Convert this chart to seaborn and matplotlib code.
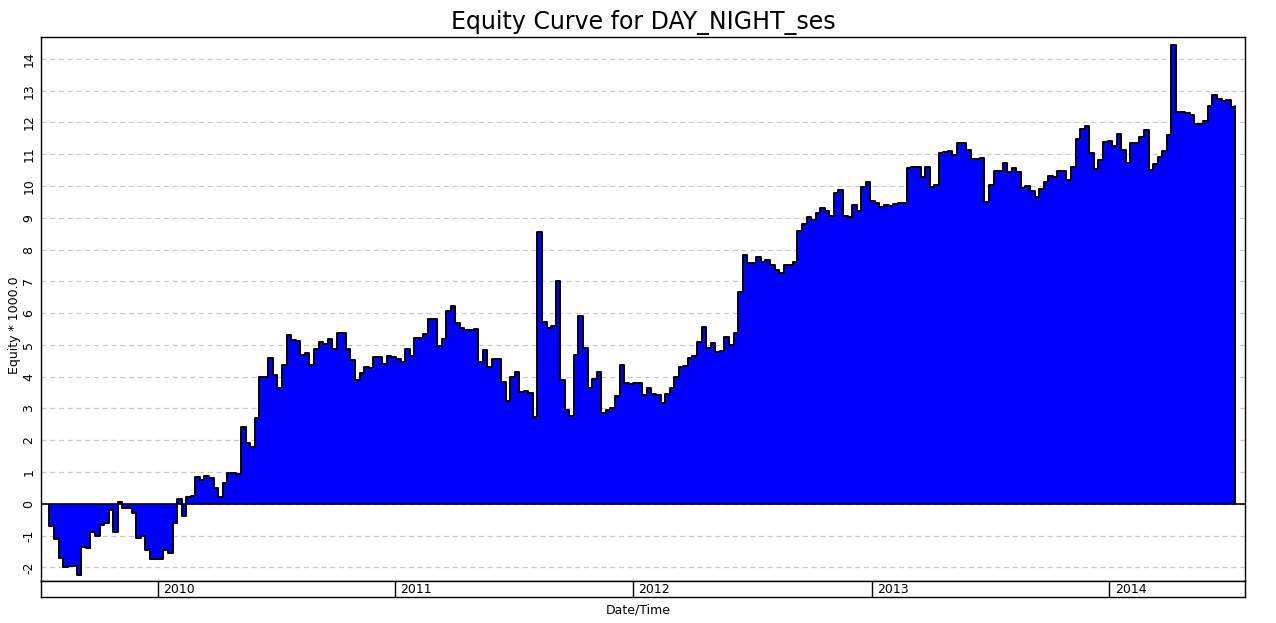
import numpy as np
import pandas as pd
import matplotlib
matplotlib.use('Agg')
import matplotlib.pyplot as plt
import seaborn as sns

sns.set_style('white')
plt.rcParams['font.family'] = 'DejaVu Sans'
plt.rcParams['text.color'] = 'black'
plt.rcParams['axes.labelcolor'] = 'black'
plt.rcParams['ytick.color'] = 'black'
plt.rcParams['xtick.color'] = 'black'

# weekly equity (x1000)
start_date = '2009-07-19'
equity = [
    -0.7, -1.1, -1.7, -2.0, -1.97, -1.95, -2.25, -1.35, -1.4, -0.88,
    -1.0, -0.66, -0.6, -0.2, -0.88, 0.05, -0.13, -0.13, -0.28, -1.07,
    -1.0, -1.45, -1.73, -1.73, -1.73, -1.45, -1.55, -0.6, 0.15, -0.38,
    0.2, 0.23, 0.84, 0.75, 0.88, 0.8, 0.49, 0.21, 0.65, 0.96,
    0.98, 0.93, 2.43, 1.9, 1.8, 2.7, 4.0, 4.0, 4.6, 4.05,
    3.63, 4.36, 5.3, 5.17, 5.13, 4.68, 4.73, 4.38, 4.88, 5.1,
    5.04, 5.2, 4.88, 5.36, 5.38, 4.88, 4.52, 3.9, 4.12, 4.31,
    4.26, 4.63, 4.63, 4.39, 4.65, 4.63, 4.55, 4.45, 4.86, 4.65,
    5.23, 5.23, 5.33, 5.82, 5.82, 4.97, 5.18, 6.06, 6.24, 5.7,
    5.54, 5.46, 5.46, 5.51, 4.45, 4.84, 4.32, 4.55, 4.55, 3.82,
    3.25, 3.98, 4.15, 3.51, 3.56, 3.48, 2.72, 8.55, 5.72, 5.54,
    5.6, 7.0, 3.9, 2.94, 2.75, 4.69, 5.9, 4.9, 3.64, 3.92,
    4.16, 2.85, 2.94, 3.01, 3.38, 4.37, 3.8, 3.78, 3.8, 3.8,
    3.43, 3.64, 3.46, 3.43, 3.17, 3.46, 3.64, 4.0, 4.32, 4.34,
    4.58, 4.64, 5.1, 5.56, 4.9, 5.06, 4.79, 4.81, 5.26, 5.0,
    5.37, 6.68, 7.83, 7.57, 7.59, 7.76, 7.62, 7.67, 7.52, 7.36,
    7.25, 7.52, 7.52, 7.62, 8.57, 8.8, 9.04, 8.93, 9.16, 9.3,
    9.22, 9.06, 9.77, 9.88, 9.06, 9.04, 9.4, 9.21, 9.98, 10.14,
    9.54, 9.46, 9.35, 9.4, 9.37, 9.43, 9.48, 9.46, 10.56, 10.6,
    10.6, 10.3, 10.6, 9.98, 10.04, 11.03, 11.06, 11.11, 10.98, 11.34,
    11.36, 11.13, 10.84, 10.84, 10.87, 9.51, 10.04, 10.48, 10.48, 10.71,
    10.45, 10.56, 10.45, 9.93, 10.0, 9.83, 9.65, 9.9, 10.12, 10.32,
    10.3, 10.48, 10.48, 10.19, 10.61, 11.47, 11.81, 11.9, 11.03, 10.53,
    10.82, 11.4, 11.42, 11.26, 11.63, 11.13, 10.73, 11.36, 11.36, 11.55,
    11.76, 10.5, 10.69, 10.92, 11.11, 11.6, 14.45, 12.34, 12.34, 12.3,
    12.23, 11.95, 11.95, 12.05, 12.51, 12.85, 12.75, 12.68, 12.7, 12.49,
    12.51,
]
years = ['2010', '2011', '2012', '2013', '2014']
yticks = list(range(-2, 15))

dates = pd.date_range(start_date, periods=len(equity), freq='7D')
df = pd.DataFrame({'date': dates, 'equity': equity})

fig = plt.figure(figsize=(12.76, 6.23), dpi=100)
ax = fig.add_axes([0.0321, 0.0674, 0.9436, 0.8732])
axb = fig.add_axes([0.0321, 0.0417, 0.9436, 0.0257], sharex=ax)

# equity fill + step outline
ax.fill_between(df['date'], df['equity'], 0, step='post', color='#0000ff', lw=0)
sns.lineplot(data=df, x='date', y='equity', drawstyle='steps-post',
             color='black', lw=1.4, ax=ax)
ax.vlines([df['date'].iloc[0], df['date'].iloc[-1]], 0,
          [df['equity'].iloc[0], df['equity'].iloc[-1]], color='black', lw=1.4)
ax.axhline(0, color='black', lw=1.2)

ax.set_xlim(pd.Timestamp('2009-07-06'), pd.Timestamp('2014-07-28'))
ax.set_ylim(-2.43, 14.69)
ax.set_yticks(yticks)
ax.set_yticklabels([str(v) for v in yticks], rotation=90, va='center', fontsize=9)
ax.tick_params(axis='y', length=0, pad=4)
ax.tick_params(axis='x', bottom=False, labelbottom=False)
ax.yaxis.grid(True, color='#c8c8c8', linestyle=(0, (4, 3)), lw=0.9)
ax.set_axisbelow(True)
ax.set_xlabel('')
ax.set_ylabel('')
for s in ax.spines.values():
    s.set_color('black')
    s.set_linewidth(1.0)
ax.set_title('Equity Curve for DAY_NIGHT_ses', fontsize=17, pad=6)

# year band
axb.set_ylim(0, 1)
for y in years:
    t = pd.Timestamp(y + '-01-01')
    axb.axvline(t, color='black', lw=1.0)
    axb.text(t + pd.Timedelta(days=8), 0.45, y, fontsize=9, va='center', ha='left')
axb.set_yticks([])
axb.tick_params(axis='x', bottom=False, labelbottom=False)
for s in axb.spines.values():
    s.set_color('black')
    s.set_linewidth(1.0)
fig.text(0.5, 0.021, 'Date/Time', ha='center', va='center', fontsize=9)
fig.text(0.011, 0.478, 'Equity * 1000.0', rotation=90, ha='center', va='center', fontsize=9)

fig.savefig('out.png', dpi=100)
